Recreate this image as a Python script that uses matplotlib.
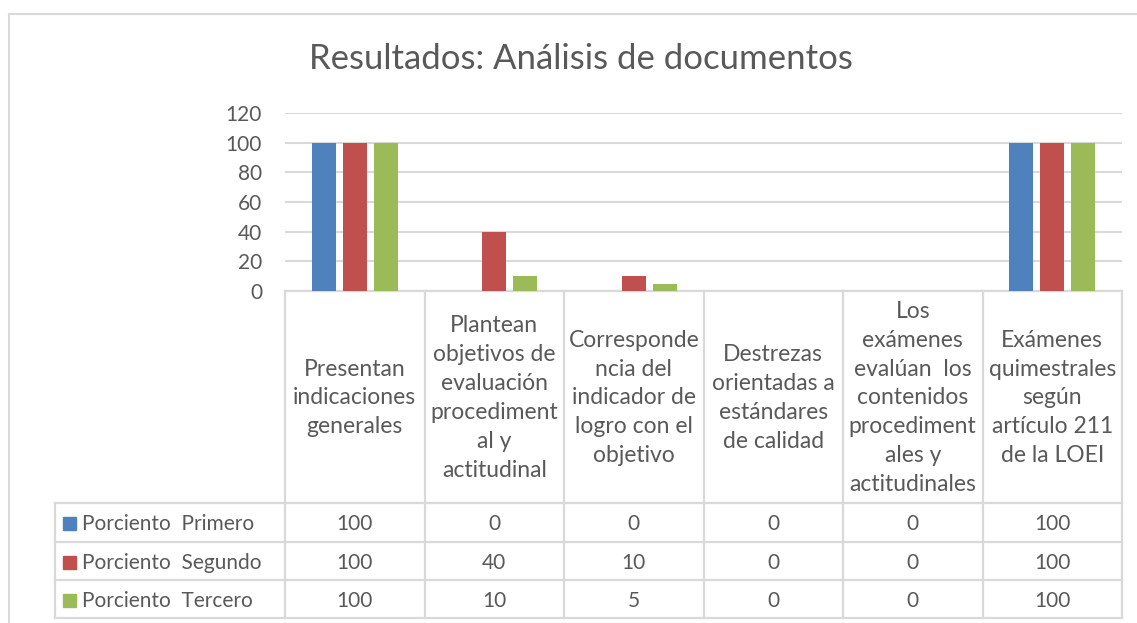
import matplotlib
matplotlib.use("Agg")
import matplotlib.pyplot as plt
import numpy as np

plt.rcParams['font.family'] = ['Lato', 'DejaVu Sans']

# datos
categorias = ["Presentan\nindicaciones\ngenerales",
              "Plantean\nobjetivos de\nevaluación\nprocediment\nal y\nactitudinal",
              "Corresponde\nncia del\nindicador de\nlogro con el\nobjetivo",
              "Destrezas\norientadas a\nestándares\nde calidad",
              "Los\nexámenes\nevalúan  los\ncontenidos\nprocediment\nales y\nactitudinales",
              "Exámenes\nquimestrales\nsegún\nartículo 211\nde la LOEI"]
series = ["Porciento  Primero", "Porciento  Segundo", "Porciento  Tercero"]
primero = [100, 0, 0, 0, 0, 100]
segundo = [100, 40, 10, 0, 0, 100]
tercero = [100, 10, 5, 0, 0, 100]
valores = [primero, segundo, tercero]
colores = ["#4F81BD", "#C0504D", "#9BBB59"]

W, H = 1137, 623
txt = "#595959"
linea = "#D9D9D9"

fig = plt.figure(figsize=(W / 100, H / 100), dpi=100)

# capa en pixeles para marco y tabla
bg = fig.add_axes([0, 0, 1, 1])
bg.set_xlim(0, W)
bg.set_ylim(H, 0)
bg.axis("off")

# marco del grafico
bg.plot([9, 9], [14, H], color=linea, lw=1.5)
bg.plot([9, W], [14, 14], color=linea, lw=1.5)

x0, x1 = 285, 1122
y_top, y_zero = 113, 291
ax = fig.add_axes([x0 / W, (H - y_zero) / H, (x1 - x0) / W, (y_zero - y_top) / H])
n = len(categorias)
x = np.arange(n)
bw = 0.172
step = 0.222
for i, (vals, c) in enumerate(zip(valores, colores)):
    ax.bar(x + (i - 1) * step, vals, width=bw, color=c, zorder=3)
ax.set_xlim(-0.5, n - 0.5)
ax.set_ylim(0, 120)
ax.set_yticks(range(0, 121, 20))
ax.yaxis.grid(True, color=linea, lw=1.5, zorder=0)
for s in ax.spines.values():
    s.set_visible(False)
ax.tick_params(axis="y", length=0, labelsize=15, colors=txt, pad=16.5)
ax.tick_params(axis="x", length=0, labelbottom=False)
ax.set_facecolor("none")

fig.text(581 / W, 1 - 59 / H, "Resultados: Análisis de documentos",
         ha="center", va="center", fontsize=25, color=txt)

# tabla de datos
col_w = (x1 - x0) / n
cols = [x0 + k * col_w for k in range(n + 1)]
rows = [291, 503, 542, 580, 618]
tl = 55
lw = 1.6
bg.plot([x0, x1], [rows[0], rows[0]], color=linea, lw=lw)
for r in rows[1:]:
    bg.plot([tl, x1], [r, r], color=linea, lw=lw)
for cx in cols:
    bg.plot([cx, cx], [rows[0], rows[-1]], color=linea, lw=lw)
bg.plot([tl, tl], [rows[1], rows[-1]], color=linea, lw=lw)

for k, cat in enumerate(categorias):
    bg.text((cols[k] + cols[k + 1]) / 2, (rows[0] + rows[1]) / 2 + 1, cat,
            ha="center", va="center", fontsize=16.5, color=txt, linespacing=1.47)

for i, (nombre, vals, c) in enumerate(zip(series, valores, colores)):
    yc = (rows[i + 1] + rows[i + 2]) / 2 + 2
    bg.add_patch(plt.Rectangle((63, yc - 7.5), 13, 13, color=c))
    bg.text(82, yc, nombre, ha="left", va="center", fontsize=15, color=txt)
    for k, v in enumerate(vals):
        bg.text((cols[k] + cols[k + 1]) / 2, yc, str(v), ha="center",
                va="center", fontsize=15, color=txt)

fig.savefig("out.png", dpi=100)
